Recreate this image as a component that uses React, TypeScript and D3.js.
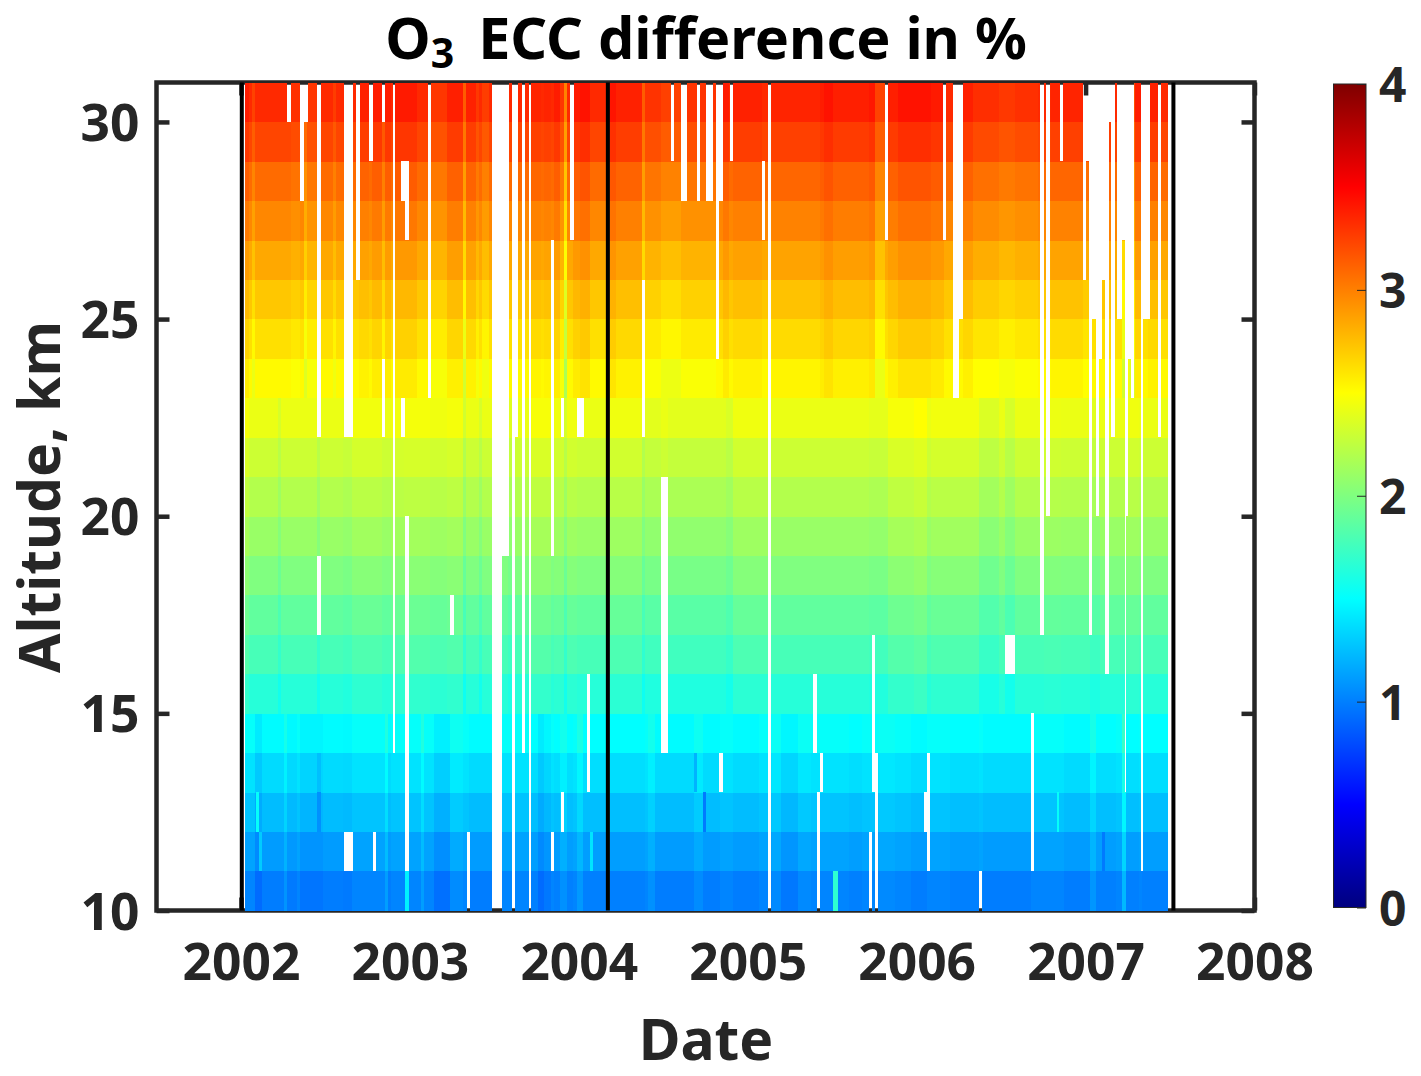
import React, { useEffect, useRef } from "react";
import * as d3 from "d3";

const width = 1421;
const height = 1076;

// altitude of the bottom of each level, km
const altitudes = d3.range(10, 31);

// % difference per level, 10-11 km up to 30-31 km
const levelValues = [
  1.02, 1.14, 1.27, 1.39, 1.52, 1.65, 1.78, 1.88, 2.0, 2.1, 2.2, 2.3, 2.42,
  2.52, 2.62, 2.72, 2.84, 2.97, 3.08, 3.23, 3.34,
];

const xTicks = [2002, 2003, 2004, 2005, 2006, 2007, 2008];
const yTicks = [10, 15, 20, 25, 30];
const colorTicks = [0, 1, 2, 3, 4];

const firstWeek = 2002.0255; // start of the record
const weekCount = 284;
const blackLines = [2002.005, 2004.172, 2007.52];

// week runs with a departure from the level value: [from, to, offset]
const upperRuns = [
  [0, 1.5, 0.05], [2.4, 3.3, -0.1], [13.8, 16.8, -0.03], [18, 19.3, -0.15],
  [19.3, 22, -0.05], [26.7, 27.6, -0.08], [35.3, 38.1, 0.03], [39.3, 42.1, 0.05],
  [42.1, 43, -0.08], [43, 45.4, 0.05], [46, 53.1, 0.06], [57.1, 62, -0.05],
  [62, 66.7, 0.04], [67, 68.2, -0.2], [68.2, 71.3, 0.03], [71.3, 72.2, -0.06],
  [73.4, 74.7, -0.08], [87.9, 91, 0.02], [92.5, 94, 0.02], [95, 97.1, 0.05],
  [97.1, 98, -0.05], [98, 99, -0.35], [101, 103, 0.06], [103, 106, 0.09],
  [112.2, 114, 0.08], [114, 122, 0.03], [122, 123, -0.2], [123, 128, -0.04],
  [128, 134, -0.09], [134, 145, -0.04], [147, 149.1, 0.06], [150, 159, 0.03],
  [161.8, 176.8, 0.02], [176.8, 177.7, 0.05], [177.7, 180.8, 0.09],
  [180.8, 191.6, 0.04], [192.2, 193.8, 0.07], [193.8, 196.8, -0.1],
  [197.8, 201.4, 0.04], [201.4, 210.7, 0.09], [210.7, 214.7, 0.06],
  [220.8, 224.5, 0.04], [224.5, 232.2, -0.02], [232.2, 236.8, -0.06],
  [236.8, 244.5, -0.03], [245.8, 246.4, -0.08], [247.6, 257.7, 0.02],
  [257.7, 259.8, -0.02], [265.75, 266.6, 0.03], [267.6, 268.5, 0.03],
  [269.75, 270.7, -0.2], [271.6, 273.7, -0.15], [273.7, 275.6, 0.05],
  [278.4, 280.85, 0.03],
];

const middleRuns = [
  [0, 1, 0.05], [10.4, 11.3, -0.08], [22, 23.3, -0.08], [30, 33, -0.02],
  [33, 42.3, 0.03], [45.4, 49.1, 0.03], [49.1, 56.8, 0.04], [56.8, 62, 0.02],
  [62, 67, 0.04], [67, 68.2, -0.1], [72.2, 73.1, -0.08], [81, 82, -0.04],
  [87.9, 94, 0.05], [95, 98, 0.02], [98, 99, -0.08], [99, 102, 0.02],
  [112.2, 122, 0.02], [122, 123, -0.1], [123, 128, -0.03], [130, 148.2, -0.03],
  [148.2, 149.8, -0.07], [149.8, 160.8, 0.02], [192.2, 198.4, -0.02],
  [198.4, 206, 0.05], [206, 209.8, 0.08], [210.7, 226, 0.03], [226, 231.6, -0.06],
  [233.8, 236.8, -0.08], [246, 250.7, 0.01], [260.5, 263, -0.04], [271.3, 275.2, 0.02],
];

const lowerRuns = [
  [3.3, 5.1, -0.1], [5.1, 12.2, -0.03], [12.2, 13.1, 0.06], [13.1, 16, -0.04],
  [16.8, 23.9, -0.06], [24.2, 30, -0.03], [30, 33, -0.04], [43, 43.9, 0.1],
  [43.9, 45.4, -0.03], [54, 55.3, 0.1], [58, 63, -0.08], [63, 67, 0.03],
  [69, 75.9, -0.03], [87.9, 90, -0.02], [90, 92.5, -0.1], [92.5, 94, -0.05],
  [95, 97.1, -0.02], [97.1, 99, 0.05], [99, 101.1, -0.02], [102, 104.2, 0.08],
  [104.2, 111, -0.02], [112.2, 123.5, -0.02], [124, 126, 0.05], [126, 137.7, -0.03],
  [137.7, 140.8, 0.03], [140.8, 146, -0.03], [149.8, 157.8, -0.03],
  [161.8, 165.4, 0.02], [165.4, 169.7, -0.05], [169.7, 173.8, 0.02],
  [186, 190, -0.02], [194.7, 199.9, 0.02], [204.8, 209.8, -0.03], [216.8, 226, -0.02],
  [226.7, 241.8, -0.03], [252.5, 259.9, -0.03], [260.5, 261.8, 0.07],
  [261.8, 267.6, -0.02], [267.6, 268.5, -0.12], [269.75, 270.7, 0.2],
  [270.7, 275.3, -0.02], [276.5, 284, -0.02],
];

// single odd soundings: [from week, to week, alt low, alt high, value]
const oddCells = [
  [180.8, 182.6, 10, 11, 1.68], [49.1, 50.4, 10, 11, 1.45], [3.3, 4.2, 12, 13, 1.52],
  [4.2, 5.1, 11, 12, 1.3], [22.1, 23.3, 12, 13, 1.07], [22.1, 23.3, 13, 14, 1.25],
  [140.9, 141.8, 12, 13, 0.98], [138, 139, 13, 14, 1.2], [263.6, 264.6, 11, 12, 0.98],
  [249.8, 250.6, 12, 13, 1.52], [106, 107, 11, 12, 1.4],
];

// missing data: [from week, to week, alt low, alt high]
const gaps = [
  [13, 14, 30, 31], [17, 18, 28, 31], [18, 19.3, 30, 31], [22, 23.3, 22, 31],
  [22, 23.3, 17, 19], [30.4, 33.1, 22, 31], [30.4, 33.1, 11, 12], [34.1, 35.3, 26, 31],
  [38.1, 39.3, 29, 31], [39.3, 40.2, 11, 12], [42.1, 43, 30, 31], [42.1, 43, 22, 24],
  [45.4, 46.1, 14, 31], [47.9, 50.4, 28, 29], [49.1, 50.4, 27, 28], [47.9, 49.1, 22, 23],
  [49.1, 50.4, 11, 20], [56.2, 57.1, 23, 31], [63, 64.2, 17, 18], [68.2, 69.1, 10, 12],
  [75.9, 79, 10, 31], [79, 81.1, 19, 31], [82.1, 83, 10, 31], [83, 83.9, 22, 31],
  [85.1, 86.1, 14, 31], [87.3, 87.9, 10, 31], [94.1, 95, 19, 27], [94.1, 95, 11, 12],
  [97.1, 98, 22, 23], [97.1, 98, 12, 13], [99.9, 101.1, 27, 31], [102, 104.2, 22, 23],
  [105.1, 106.1, 13, 16], [122, 123, 22, 26], [127.9, 130, 14, 21], [131, 131.9, 29, 31],
  [134, 135.9, 28, 31], [139, 139.9, 28, 31], [141.8, 143.9, 28, 31], [144.8, 147, 28, 31],
  [144.8, 145.8, 24, 28], [145.75, 147, 13, 14], [149.1, 150, 29, 31], [159, 159.9, 27, 29],
  [160.8, 161.8, 10, 31], [174.7, 175.9, 14, 16], [175.9, 176.8, 10, 13],
  [176.8, 177.7, 13, 14], [191.9, 192.8, 10, 12], [192.8, 193.8, 13, 17],
  [193.8, 194.7, 10, 14], [196.8, 197.8, 27, 31], [208.8, 209.8, 12, 13],
  [209.8, 210.7, 11, 14], [214.7, 215.6, 27, 31], [217.8, 219.6, 23, 31],
  [219.6, 220.8, 25, 31], [225.8, 226.7, 10, 11], [233.8, 236.8, 16, 17],
  [241.8, 242.7, 11, 15], [244.5, 245.75, 17, 31], [246.4, 247.6, 20, 31],
  [250.75, 251.75, 29, 31], [257.75, 258.75, 26, 31], [258.75, 259.75, 29, 31],
  [259.75, 260.5, 17, 31], [260.5, 261.75, 25, 31], [261.75, 262.7, 20, 31],
  [262.7, 263.6, 24, 31], [263.6, 264.8, 26, 31], [264.8, 265.75, 16, 31],
  [265.75, 266.6, 30, 31], [266.6, 267.6, 22, 31], [268.5, 269.75, 25, 31],
  [269.75, 270.7, 27, 31], [270.7, 271.6, 20, 31], [270.7, 271, 13, 20],
  [271.6, 272.8, 24, 31], [272.8, 273.7, 23, 31], [275.6, 276.5, 11, 31],
  [276.5, 278.4, 25, 31], [280.85, 281.8, 22, 31],
];

const ink = "#262626";
const fontFamily = "'Noto Sans', sans-serif";

const jet = d3
  .scaleLinear<string>()
  .domain([0, 0.5, 1.5, 2.5, 3.5, 4])
  .range(["#00007f", "#0000ff", "#00ffff", "#ffff00", "#ff0000", "#7f0000"])
  .clamp(true);

const runOffset = (runs: number[][], week: number) => {
  const run = runs.find((r) => week + 0.5 >= r[0] && week + 0.5 < r[1]);
  return run ? run[2] : 0;
};

const App: React.FC = () => {
  const svgRef = useRef<SVGSVGElement>(null);

  useEffect(() => {
    if (!svgRef.current) return;

    const svg = d3.select(svgRef.current);
    svg.selectAll("*").remove();

    const margin = { top: 82.5, right: 1254.5, bottom: 910.5, left: 156.5 };

    const x = d3
      .scaleLinear()
      .domain([2001.5, 2008])
      .range([margin.left, margin.right]);
    const y = d3
      .scaleLinear()
      .domain([10, 31])
      .range([margin.bottom, margin.top]);
    const weekX = (w: number) => x(firstWeek + w / 52);

    const styleAxis = (g: d3.Selection<SVGGElement, unknown, null, undefined>) => {
      g.select(".domain").remove();
      g.selectAll("line").attr("stroke", ink).attr("stroke-width", 4.5);
      g.selectAll("text")
        .attr("fill", ink)
        .style("font-family", fontFamily)
        .style("font-weight", 700)
        .style("font-size", "51.5px");
    };

    // axes go first, the image sits on top of them
    svg
      .append("g")
      .attr("transform", `translate(0,${margin.bottom})`)
      .call(
        d3.axisBottom(x).tickValues(xTicks).tickFormat(d3.format("d")).tickSize(-13).tickPadding(33),
      )
      .call(styleAxis);
    svg
      .append("g")
      .attr("transform", `translate(0,${margin.top})`)
      .call(d3.axisTop(x).tickValues(xTicks).tickFormat(() => "").tickSize(-13))
      .call(styleAxis);
    const yAxisG = svg
      .append("g")
      .attr("transform", `translate(${margin.left},0)`)
      .call(d3.axisLeft(y).tickValues(yTicks).tickSize(-13).tickPadding(17))
      .call(styleAxis);
    yAxisG.selectAll("text").attr("dy", "0.36em");
    svg
      .append("g")
      .attr("transform", `translate(${margin.right},0)`)
      .call(d3.axisRight(y).tickValues(yTicks).tickFormat(() => "").tickSize(-13))
      .call(styleAxis);

    svg
      .append("rect")
      .attr("x", margin.left)
      .attr("y", margin.top)
      .attr("width", margin.right - margin.left)
      .attr("height", margin.bottom - margin.top)
      .attr("fill", "none")
      .attr("stroke", ink)
      .attr("stroke-width", 4.5);

    // gaps are cut out of the image so the frame shows through them
    const mask = svg
      .append("mask")
      .attr("id", "gaps")
      .attr("maskUnits", "userSpaceOnUse")
      .attr("x", 0)
      .attr("y", 0)
      .attr("width", width)
      .attr("height", height);
    mask
      .append("rect")
      .attr("width", width)
      .attr("height", height)
      .attr("fill", "white");
    mask
      .selectAll("rect.gap")
      .data(gaps)
      .enter()
      .append("rect")
      .attr("class", "gap")
      .attr("x", (d) => weekX(d[0]))
      .attr("width", (d) => weekX(d[1]) - weekX(d[0]))
      .attr("y", (d) => y(d[3]))
      .attr("height", (d) => y(d[2]) - y(d[3]))
      .attr("fill", "black")
      .attr("shape-rendering", "crispEdges");

    const cells = altitudes.flatMap((alt, level) =>
      d3.range(weekCount).map((week) => {
        const runs = alt >= 23 ? upperRuns : alt >= 15 ? middleRuns : lowerRuns;
        return { alt, week, value: levelValues[level] + runOffset(runs, week) };
      }),
    );

    const image = svg.append("g").attr("mask", "url(#gaps)");
    image
      .selectAll("rect.cell")
      .data(cells)
      .enter()
      .append("rect")
      .attr("class", "cell")
      .attr("x", (d) => weekX(d.week))
      .attr("width", (d) => weekX(d.week + 1) - weekX(d.week) + 0.4)
      .attr("y", (d) => y(d.alt + 1))
      .attr("height", (d) => y(d.alt) - y(d.alt + 1) + 0.4)
      .attr("fill", (d) => jet(d.value))
      .attr("shape-rendering", "crispEdges");
    image
      .selectAll("rect.odd")
      .data(oddCells)
      .enter()
      .append("rect")
      .attr("class", "odd")
      .attr("x", (d) => weekX(d[0]))
      .attr("width", (d) => weekX(d[1]) - weekX(d[0]))
      .attr("y", (d) => y(d[3]))
      .attr("height", (d) => y(d[2]) - y(d[3]))
      .attr("fill", (d) => jet(d[4]))
      .attr("shape-rendering", "crispEdges");

    svg
      .selectAll("line.marker")
      .data(blackLines)
      .enter()
      .append("line")
      .attr("class", "marker")
      .attr("x1", (d) => x(d))
      .attr("x2", (d) => x(d))
      .attr("y1", margin.top)
      .attr("y2", margin.bottom)
      .attr("stroke", "black")
      .attr("stroke-width", 4);

    // colorbar
    const barLeft = 1333.5;
    const barWidth = 32.5;
    const barY = d3.scaleLinear().domain([0, 4]).range([907.5, 84]);

    const gradient = svg
      .append("linearGradient")
      .attr("id", "jet")
      .attr("x1", 0)
      .attr("x2", 0)
      .attr("y1", 1)
      .attr("y2", 0);
    gradient
      .selectAll("stop")
      .data(jet.domain())
      .enter()
      .append("stop")
      .attr("offset", (d) => d / 4)
      .attr("stop-color", (d) => jet(d));

    svg
      .append("rect")
      .attr("x", barLeft)
      .attr("y", barY(4))
      .attr("width", barWidth)
      .attr("height", barY(0) - barY(4))
      .attr("fill", "url(#jet)")
      .attr("stroke", ink)
      .attr("stroke-width", 1);

    const colorAxis = d3
      .axisRight(barY)
      .tickValues(colorTicks)
      .tickFormat(d3.format("d"))
      .tickSize(-9)
      .tickPadding(13);
    const colorG = svg
      .append("g")
      .attr("transform", `translate(${barLeft + barWidth},0)`)
      .call(colorAxis);
    colorG.select(".domain").remove();
    colorG.selectAll("line").attr("stroke", ink).attr("stroke-width", 1);
    colorG
      .selectAll("text")
      .attr("fill", ink)
      .attr("dy", "0.37em")
      .style("font-family", fontFamily)
      .style("font-weight", 700)
      .style("font-size", "48px");

    const title = svg
      .append("text")
      .attr("x", 706)
      .attr("y", 59)
      .attr("text-anchor", "middle")
      .attr("fill", "black")
      .style("font-family", fontFamily)
      .style("font-weight", 700)
      .style("font-size", "57.5px");
    title.append("tspan").text("O");
    title
      .append("tspan")
      .attr("dy", 9)
      .style("font-size", "41px")
      .text("3");
    title.append("tspan").attr("dy", -9).attr("dx", 24).text("ECC difference in %");

    svg
      .append("text")
      .attr("x", 706)
      .attr("y", 1060)
      .attr("text-anchor", "middle")
      .attr("fill", ink)
      .style("font-family", fontFamily)
      .style("font-weight", 700)
      .style("font-size", "57px")
      .text("Date");

    svg
      .append("text")
      .attr("transform", "rotate(-90)")
      .attr("x", -497)
      .attr("y", 60)
      .attr("text-anchor", "middle")
      .attr("fill", ink)
      .style("font-family", fontFamily)
      .style("font-weight", 700)
      .style("font-size", "57px")
      .text("Altitude, km");
  }, []);

  return (
    <svg
      ref={svgRef}
      width={width}
      height={height}
      style={{ position: "absolute", left: 0, top: 0, background: "white" }}
    />
  );
};

export default App;
